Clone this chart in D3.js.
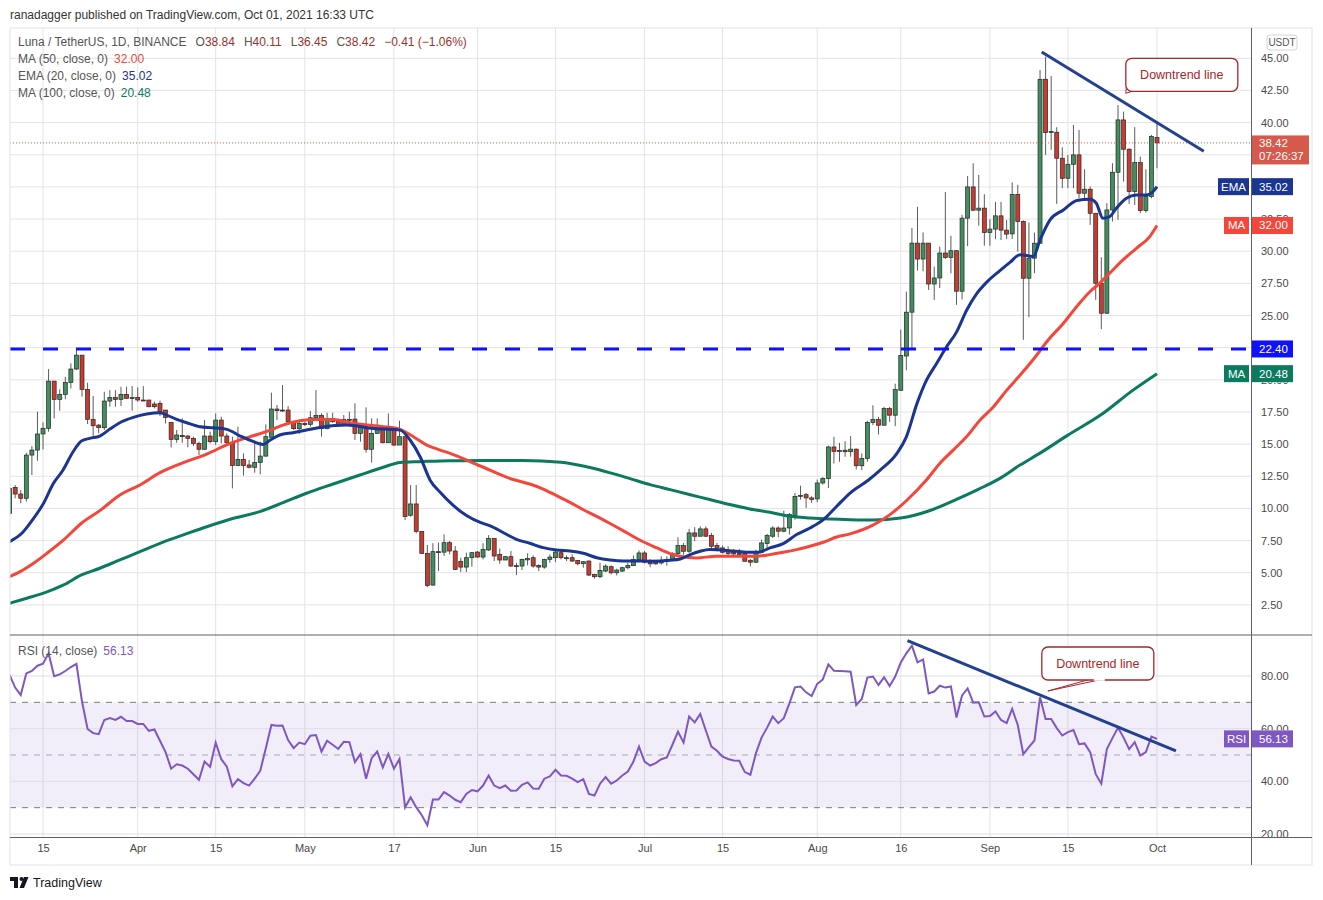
<!DOCTYPE html>
<html>
<head>
<meta charset="utf-8">
<script src="https://cdnjs.cloudflare.com/ajax/libs/d3/7.8.5/d3.min.js"></script>
<style>
html, body { margin: 0; padding: 0; background: #fff; }
svg { display: block; font-family: "Liberation Sans", Arial, sans-serif; }
</style>
</head>
<body>
<div id="chart"></div>
<script>
// daily candles, first one is 2021-03-09
var opens = [9.62,11.64,11.12,10.79,14.15,14.54,15.79,16.23,19.9,18.48,
18.87,19.8,20.84,21.92,19.26,16.93,16.48,16.28,18.35,18.63,
18.48,18.87,18.56,18.63,18.43,18.43,18.12,18.17,17.65,16.69,
15.37,15.68,15.63,15.45,15.06,14.6,15.63,15.19,16.87,15.63,
15.14,13.33,13.82,13.38,13.2,13.58,14.07,15.53,17.73,17.65,
17.65,16.74,16.2,16.61,16.54,17.05,17.24,16.2,17.0,16.8,
16.49,16.93,16.95,15.84,16.3,14.6,15.84,16.36,15.11,16.15,
14.93,15.58,9.47,10.35,8.22,6.51,4.04,6.64,6.6,7.34,
6.69,5.89,5.44,6.17,6.61,6.22,6.77,7.66,6.43,5.99,
6.25,5.55,5.52,6.0,6.17,5.57,5.44,6.04,6.17,6.56,
6.17,6.17,5.96,5.7,5.91,4.87,4.69,5.13,5.47,5.0,
5.13,5.39,5.55,6.03,6.54,5.82,5.69,5.76,5.89,5.97,
6.49,7.11,6.67,8.1,7.84,8.41,7.89,7.11,6.93,6.67,
6.59,6.49,6.49,5.97,5.82,6.59,7.27,7.84,8.48,8.23,
8.48,9.44,11.02,11.07,10.82,10.74,11.98,12.32,14.78,14.48,
14.53,14.41,14.61,13.32,13.89,16.68,16.91,16.47,17.76,17.25,
19.19,21.85,25.26,30.63,29.39,30.63,27.45,27.92,29.86,29.52,
30.04,26.89,32.57,35.0,33.19,33.35,31.46,31.72,32.75,31.64,
31.35,34.42,32.31,27.9,29.46,30.62,43.37,39.22,39.25,37.23,
35.67,36.76,37.49,34.51,34.82,32.95,27.51,25.18,33.21,36.14,
40.21,37.93,34.64,36.89,33.16,34.25,38.84];

var highs = [11.8,11.82,11.43,14.33,14.85,17.52,16.69,20.84,19.9,19.26,
20.24,21.28,22.36,21.92,19.77,18.74,16.56,19.07,19.2,19.2,
19.46,19.46,19.52,19.41,19.52,18.43,18.3,18.38,17.65,16.69,
16.1,17.0,15.71,15.58,15.19,16.87,15.97,17.39,17.13,15.84,
15.58,16.36,14.28,13.77,15.19,15.19,16.54,19.0,18.04,19.59,
17.96,16.74,16.87,16.74,17.57,19.2,17.39,17.44,17.44,16.93,
17.26,17.52,18.17,16.35,17.86,17.0,17.0,16.41,17.39,16.15,
16.82,15.63,11.82,11.82,8.22,7.16,7.3,7.34,7.99,7.47,
7.08,6.17,6.56,6.61,6.69,7.29,7.92,7.66,6.88,6.3,
6.69,5.78,6.09,6.51,6.35,5.65,6.09,6.43,6.82,6.69,
6.35,6.43,5.96,5.91,5.96,4.92,5.78,5.65,5.57,5.31,
5.47,5.78,6.35,6.74,6.69,6.07,5.92,6.28,6.28,6.59,
7.76,7.32,8.41,8.54,8.61,8.61,8.1,7.32,7.11,7.06,
6.85,6.85,6.59,6.07,6.8,7.58,8.02,8.61,8.61,9.83,
9.65,11.2,11.77,11.2,10.95,12.24,12.45,14.88,15.57,15.1,
15.23,15.62,14.66,14.28,16.81,18.02,17.12,17.9,17.89,19.7,
23.91,26.86,31.8,33.45,31.46,30.63,28.8,30.35,34.61,31.2,
30.09,32.83,35.85,36.83,35.93,34.43,32.49,33.84,33.84,32.42,
35.35,35.16,32.4,32.23,31.45,44.09,45.13,43.63,39.64,38.08,
37.49,39.82,39.43,36.37,35.03,32.95,29.53,33.73,36.84,41.37,
40.85,38.0,39.64,37.36,36.37,39.04,40.11];

var lows = [9.5,10.79,10.4,10.53,12.6,13.71,14.59,15.97,17.0,17.6,
18.48,19.33,20.76,18.69,16.56,15.63,15.84,16.1,17.91,17.91,
17.96,18.56,17.6,18.3,18.38,17.86,17.78,17.18,16.61,14.75,
15.11,15.11,14.75,14.85,14.15,14.54,15.06,14.93,15.06,14.93,
11.56,13.3,12.55,13.12,12.78,12.65,14.02,15.53,16.87,17.52,
16.67,16.1,15.79,16.41,16.35,17.0,15.58,16.15,16.67,16.35,
16.41,16.74,15.32,15.19,14.33,13.56,15.84,15.06,15.11,14.85,
14.93,9.1,9.36,8.07,6.46,3.87,4.0,5.13,6.3,6.43,
5.2,5.05,5.05,5.47,6.17,6.04,6.69,5.91,5.7,5.99,
5.47,4.82,5.21,5.57,5.39,5.13,5.31,5.78,5.83,6.04,
5.91,5.83,5.57,5.39,4.74,4.53,4.58,5.05,4.87,4.79,
5.05,5.26,5.52,5.91,5.73,5.43,5.63,5.63,5.56,5.89,
6.41,6.41,6.54,7.45,7.84,7.78,6.8,6.67,6.49,6.28,
6.28,6.28,5.89,5.5,5.76,6.54,6.93,7.71,7.76,8.15,
7.97,9.13,10.69,10.04,10.43,10.48,11.85,11.59,13.5,13.63,
14.02,14.02,13.04,12.98,13.63,16.47,15.75,16.47,16.73,16.4,
19.13,20.74,22.42,28.49,28.44,26.99,26.21,27.14,29.4,28.28,
25.83,26.24,30.4,33.14,31.98,30.43,30.43,30.94,30.87,30.94,
30.95,29.97,23.11,24.87,28.29,30.57,37.49,37.88,33.68,34.9,
34.9,34.9,34.12,34.12,32.05,26.22,23.94,25.13,32.31,32.44,
35.41,33.68,33.6,32.95,33.0,34.12,36.45];

var closes = [11.56,11.12,10.79,14.15,14.54,15.79,16.23,19.9,18.48,18.87,
19.8,20.84,21.92,19.26,16.93,16.43,16.28,18.35,18.63,18.48,
18.87,18.56,18.63,18.43,18.4,17.91,17.91,17.52,17.08,15.37,
15.71,15.58,15.45,15.06,14.6,15.63,15.19,16.87,15.63,15.11,
13.33,13.82,13.33,13.2,13.58,14.07,15.58,17.73,17.6,17.62,
16.74,16.2,16.61,16.51,17.05,17.24,16.2,17.0,16.74,16.49,
16.93,16.9,15.84,16.3,14.6,15.84,16.36,15.11,16.15,14.93,
15.58,9.37,10.35,8.22,6.51,4.0,6.64,6.6,7.34,6.69,
5.26,5.44,6.17,6.56,6.22,6.82,7.66,6.3,5.99,6.25,
5.52,5.53,6.04,6.1,5.52,5.44,6.04,6.22,6.61,6.17,
6.15,5.91,5.7,5.86,4.82,4.69,5.18,5.52,5.0,5.21,
5.39,5.57,6.03,6.54,5.82,5.69,5.82,5.92,6.02,6.49,
7.11,6.67,8.1,7.84,8.41,7.84,7.06,6.88,6.59,6.49,
6.46,6.46,5.89,5.82,6.59,7.32,7.89,8.48,8.23,8.48,
9.52,10.94,10.98,10.82,10.7,11.98,12.32,14.78,14.44,14.5,
14.41,14.61,13.32,13.89,16.68,16.91,16.47,17.76,17.25,19.24,
21.9,25.26,30.63,29.39,30.63,27.45,27.92,29.86,29.52,30.04,
26.89,32.57,35.0,33.19,33.35,31.46,31.72,32.75,31.64,31.33,
34.42,32.31,27.9,29.46,30.62,43.37,39.22,39.3,37.23,35.67,
36.76,37.49,34.51,34.82,32.95,27.51,25.18,33.21,36.14,40.21,
37.93,34.64,36.89,33.16,34.25,38.91,38.42];

var rsiValues = [80.4,75.6,72.8,81.0,81.9,83.9,84.7,88.6,79.9,80.6,
81.9,83.4,84.6,70.3,59.9,58.3,57.9,63.3,64.0,63.3,
64.5,62.9,62.9,61.8,61.8,59.2,59.7,55.4,51.1,44.8,
46.5,46.0,44.8,42.7,40.6,47.5,45.5,54.7,48.4,45.6,
38.1,40.8,39.3,38.4,41.0,44.0,52.6,61.4,61.1,61.2,
55.7,52.6,54.7,54.1,57.3,57.6,51.3,55.4,53.9,52.3,
55.0,54.9,47.3,50.3,41.0,48.8,51.3,45.3,50.4,44.8,
48.5,30.1,33.9,30.2,27.1,23.3,33.1,33.1,35.9,34.6,
33.0,32.1,35.2,36.7,36.2,38.4,42.2,38.4,37.4,38.4,
36.4,36.5,38.7,39.6,37.3,37.2,41.0,41.9,44.4,42.2,
42.1,41.0,39.7,40.8,35.2,34.6,39.1,41.6,39.1,40.3,
42.2,43.7,47.5,53.2,47.5,46.0,46.9,48.4,49.1,53.9,
58.9,54.7,64.6,62.4,65.6,59.3,53.2,51.6,49.4,48.5,
47.9,47.8,43.5,42.5,50.7,56.6,60.4,64.6,62.1,64.0,
69.6,75.7,76.0,73.8,72.4,77.0,78.7,84.4,82.0,81.9,
81.8,81.6,69.0,71.3,79.4,79.8,76.6,79.5,76.2,79.8,
85.1,88.6,91.5,85.2,86.3,73.4,74.1,76.3,75.6,76.0,
64.2,72.6,75.3,69.9,70.0,64.6,64.8,66.5,63.3,62.1,
67.5,61.4,50.3,53.0,55.5,71.9,63.7,63.7,60.2,57.4,
58.7,59.5,54.1,54.4,51.1,42.7,39.1,52.3,56.4,60.4,
56.6,52.2,54.9,49.8,51.1,57.0,56.1];

// moving averages: [day index, value]
var ema20Points = [[0,7.42],[2.2,8.07],[4.3,9.23],[6.1,10.4],[7.8,11.9],[9.6,12.99],[11.4,14.41],[12.9,15.24],
[14.4,15.45],[16.2,15.63],[18,16.17],[20.1,16.74],[22.2,17.08],[24.6,17.34],[27,17.44],[28.2,17.26],[30,16.93],
[31.8,16.66],[34.2,16.35],[36.6,16.27],[39,16.15],[41.4,15.63],[43.8,15.19],[45.5,14.98],[46.8,15.32],[48.5,15.71],
[50.9,15.89],[55.7,16.3],[60.5,16.48],[65.3,16.22],[70.1,16.09],[71.9,15.32],[73.7,14.02],[75.5,12.2],[77.3,11.25],
[79.7,10.21],[82.1,9.43],[84.5,8.91],[86.3,8.65],[88.6,8.13],[91,7.6],[93.4,7.29],[95.8,6.95],[98.2,6.77],
[100.6,6.69],[103,6.51],[105.4,6.17],[107.8,5.99],[110.2,5.91],[112.6,5.91],[115,5.9],[118.6,5.97],[120.4,6.07],
[122.2,6.41],[124,6.67],[125.7,6.8],[128.1,6.75],[130.5,6.67],[132.9,6.59],[134.4,6.59],[136.5,6.93],[138.9,7.27],
[141.3,7.97],[143.7,8.48],[146.1,9.13],[148.5,10.17],[150.9,11.2],[154.2,12.21],[156.3,12.98],[159.3,14.28],
[161,15.57],[162.9,18.15],[164.6,19.96],[166.4,21.25],[168.2,22.55],[170,23.71],[171.8,25.39],[173.6,26.68],
[175.4,27.58],[177.8,28.49],[179.6,29.13],[181.4,29.73],[183.8,29.59],[185,30.88],[186.8,32.44],[189.2,33.21],
[191.6,33.94],[194,34.04],[195.1,33.73],[196.3,32.56],[197.5,32.69],[198.7,33.34],[200.5,34.12],[202.3,34.38],
[204.1,34.38],[205.3,34.64],[206,35.02]];

var ma50Points = [[0,4.7],[1.9,5.09],[4.3,5.74],[6.7,6.51],[9.7,7.55],[12.9,8.85],[16.2,9.83],[19.8,11.04],
[23.4,11.82],[27,12.78],[31.2,13.56],[35.4,14.23],[39.6,15.06],[43.2,15.58],[46.1,15.97],[49.1,16.48],[52.1,16.82],
[55.1,16.92],[58.1,16.92],[61.1,16.67],[64.1,16.48],[67.1,16.36],[70.1,16.15],[72.5,15.58],[74.9,14.93],
[77.3,14.54],[79.1,14.28],[84.5,13.3],[90.1,12.29],[93.4,11.9],[95.8,11.51],[98.2,10.99],[100.6,10.47],[103,9.9],
[105.4,9.38],[107.8,8.83],[110.2,8.26],[112.6,7.66],[116.2,6.93],[118.6,6.49],[120.4,6.28],[123.3,6.15],
[126.9,6.28],[130.5,6.28],[134.1,6.28],[136.5,6.41],[138.9,6.59],[141.3,6.8],[143.7,7.06],[146.1,7.37],
[148.5,7.78],[150.9,8.02],[155,8.7],[158,9.5],[161,10.6],[164.6,12.21],[167,13.5],[169.4,14.53],[171.8,15.57],
[174.2,16.86],[176.6,17.89],[179,19.18],[181.4,20.35],[184,21.7],[186.5,23.11],[189.2,24.4],[191.6,25.7],
[194,26.87],[195.7,27.51],[197.5,28.29],[199.9,29.33],[202.3,30.23],[204.7,31.14],[206,32.0]];

var ma100Points = [[0,2.63],[3.1,3.02],[6.1,3.41],[9.7,4.05],[12.9,4.83],[16.2,5.35],[19.8,6.0],[23.4,6.64],
[27,7.29],[31.2,7.94],[35.4,8.58],[39.6,9.16],[44.9,9.75],[49.1,10.45],[53.3,11.18],[58.1,11.9],[62.9,12.6],
[67.1,13.2],[70.1,13.58],[73.7,13.64],[79.1,13.71],[85,13.72],[92,13.72],[99,13.6],[104,13.2],[108,12.75],
[111.4,12.32],[115,11.85],[118.6,11.46],[122.2,11.07],[125.7,10.69],[129.3,10.3],[132.9,9.96],[136.5,9.7],
[140.1,9.39],[143.7,9.26],[147.3,9.18],[150.9,9.13],[155,9.1],[160,9.25],[165,9.8],[170,10.7],[174,11.5],
[177.8,12.34],[181.4,13.37],[185,14.3],[190,15.7],[196,17.3],[201.7,19.2],[206,20.48]];

// trend lines drawn by the author: [day index, value]
var priceTrend = [[185.3,45.49],[214.4,37.77]];
var rsiTrend = [[161.2,93.4],[209.4,51.6]];

var tickDates = ["2021-03-15","2021-04-01","2021-04-15","2021-05-01","2021-05-17","2021-06-01","2021-06-15",
  "2021-07-01","2021-07-15","2021-08-01","2021-08-16","2021-09-01","2021-09-15","2021-10-01"];
var tickLabels = ["15","Apr","15","May","17","Jun","15","Jul","15","Aug","16","Sep","15","Oct"];
var priceTicks = [2.5,5,7.5,10,12.5,15,17.5,20,22.5,25,27.5,30,32.5,35,37.5,40,42.5,45];
var rsiTicks = [20,40,60,80];

var lastPrice = 38.42, supportLevel = 22.40;
var ema20Last = 35.02, ma50Last = 32.00, ma100Last = 20.48, rsiLast = 56.13;

var FONT = "Liberation Sans, Arial, sans-serif";
var W = 1323, H = 900;
var L = 10, R = 1251, TOP = 28, MID = 635, RB = 837, BOT = 865, FR = 1312;

var start = new Date(Date.UTC(2021, 2, 9));
function dayDate(i) { return new Date(start.getTime() + i * 864e5); }
function parseDay(s) { return new Date(s + "T00:00:00Z"); }

var x = d3.scaleUtc().domain([start, new Date(Date.UTC(2021, 9, 1))]).range([9.6, 1157]);
var y = d3.scaleLinear().domain([2.5, 45]).range([604.9, 58.3]);
var yr = d3.scaleLinear().domain([20, 80]).range([834, 676]);

var candles = opens.map(function(o, i) {
  return { date: dayDate(i), o: o, h: highs[i], l: lows[i], c: closes[i] };
});

var svg = d3.select("#chart").append("svg").attr("width", W).attr("height", H);
svg.append("rect").attr("width", W).attr("height", H).attr("fill", "#fff");

var defs = svg.append("defs");
defs.append("clipPath").attr("id", "clipPrice").append("rect")
  .attr("x", L).attr("y", TOP).attr("width", R - L).attr("height", MID - TOP);
defs.append("clipPath").attr("id", "clipRsi").append("rect")
  .attr("x", L).attr("y", MID + 1).attr("width", R - L).attr("height", RB - MID - 1);

// parts of the axis column that sit behind the value tags
var tagBands = [[y(lastPrice) - 7.5, y(lastPrice) + 21.5]];
[ema20Last, ma50Last, supportLevel, ma100Last].forEach(v => tagBands.push([y(v) - 8.5, y(v) + 8.5]));
tagBands.push([yr(rsiLast) - 8.5, yr(rsiLast) + 8.5]);
tagBands.sort((a, b) => a[0] - b[0]);
var axisClip = defs.append("clipPath").attr("id", "clipAxis");
var prevY = TOP;
tagBands.forEach(function(b) {
  axisClip.append("rect").attr("x", R + 1).attr("y", prevY).attr("width", FR - R).attr("height", Math.max(0, b[0] - prevY));
  prevY = b[1];
});
axisClip.append("rect").attr("x", R + 1).attr("y", prevY).attr("width", FR - R).attr("height", RB - prevY);
function hiddenByTag(py) {
  return tagBands.some(b => py - 4 >= b[0] && py + 4 <= b[1]);
}

// grid
var grid = svg.append("g");
grid.selectAll(".vgrid").data(tickDates).enter().append("line")
  .attr("x1", d => x(parseDay(d))).attr("x2", d => x(parseDay(d)))
  .attr("y1", TOP).attr("y2", RB).attr("stroke", "#e4e4e4");
grid.selectAll(".hgrid").data(priceTicks).enter().append("line")
  .attr("x1", L).attr("x2", R).attr("y1", d => y(d)).attr("y2", d => y(d)).attr("stroke", "#e4e4e4");

// rsi band and guides
var rsiG = svg.append("g").attr("clip-path", "url(#clipRsi)");
rsiG.append("rect").attr("x", L).attr("width", R - L)
  .attr("y", yr(70)).attr("height", yr(30) - yr(70)).attr("fill", "rgba(126,87,194,0.1)");
rsiG.selectAll(".rgrid").data(rsiTicks).enter().append("line")
  .attr("x1", L).attr("x2", R).attr("y1", d => yr(d)).attr("y2", d => yr(d)).attr("stroke", "#e0dde8");
rsiG.selectAll(".rband").data([70, 50, 30]).enter().append("line")
  .attr("x1", L).attr("x2", R).attr("y1", d => yr(d)).attr("y2", d => yr(d))
  .attr("stroke", d => d == 50 ? "#a9a5b5" : "#787b86")
  .attr("stroke-dasharray", "6,6");

// candles
var priceG = svg.append("g").attr("clip-path", "url(#clipPrice)");
priceG.selectAll(".wick").data(candles).enter().append("line")
  .attr("x1", d => x(d.date)).attr("x2", d => x(d.date))
  .attr("y1", d => y(d.h)).attr("y2", d => y(d.l))
  .attr("stroke", "#5b5b5b").attr("stroke-width", 1);
priceG.selectAll(".body").data(candles).enter().append("rect")
  .attr("x", d => x(d.date) - 2).attr("width", 4)
  .attr("y", d => y(Math.max(d.o, d.c)))
  .attr("height", d => Math.max(1, Math.abs(y(d.o) - y(d.c))))
  .attr("fill", d => d.c >= d.o ? "#3f8f5f" : "#c63d30")
  .attr("stroke", "#262626").attr("stroke-width", 0.7);

// moving averages
var maLine = d3.line().x(d => x(dayDate(d[0]))).y(d => y(d[1])).curve(d3.curveMonotoneX);
priceG.append("path").datum(ma100Points).attr("d", maLine)
  .attr("fill", "none").attr("stroke", "#0b7a5f").attr("stroke-width", 3);
priceG.append("path").datum(ma50Points).attr("d", maLine)
  .attr("fill", "none").attr("stroke", "#f4463a").attr("stroke-width", 3);
priceG.append("path").datum(ema20Points).attr("d", maLine)
  .attr("fill", "none").attr("stroke", "#1a3592").attr("stroke-width", 3);

// horizontal support and last price
priceG.append("line").attr("x1", L).attr("x2", R)
  .attr("y1", y(supportLevel)).attr("y2", y(supportLevel))
  .attr("stroke", "#1010ff").attr("stroke-width", 3).attr("stroke-dasharray", "15,18");
priceG.append("line").attr("x1", L).attr("x2", R)
  .attr("y1", y(lastPrice)).attr("y2", y(lastPrice))
  .attr("stroke", "#d65a4b").attr("stroke-width", 1).attr("stroke-dasharray", "1,2");

// trend lines
var trendLine = d3.line().x(d => x(dayDate(d[0]))).y(d => y(d[1]));
priceG.append("path").datum(priceTrend).attr("d", trendLine)
  .attr("stroke", "#224191").attr("stroke-width", 3).attr("fill", "none");

// rsi line
var rsiLine = d3.line().x((d, i) => x(dayDate(i))).y(d => yr(d));
rsiG.append("path").datum(rsiValues).attr("d", rsiLine)
  .attr("fill", "none").attr("stroke", "#7e57c2").attr("stroke-width", 2);
var rsiTrendLine = d3.line().x(d => x(dayDate(d[0]))).y(d => yr(d[1]));
rsiG.append("path").datum(rsiTrend).attr("d", rsiTrendLine)
  .attr("stroke", "#224191").attr("stroke-width", 3).attr("fill", "none");

// callouts
function callout(g, bx, by, bw, bh, tail) {
  g.append("path").attr("d", tail).attr("fill", "#fff").attr("stroke", "#a7262b").attr("stroke-width", 1);
  g.append("rect").attr("x", bx).attr("y", by).attr("width", bw).attr("height", bh)
    .attr("rx", 6).attr("fill", "#fff").attr("stroke", "#a7262b").attr("stroke-width", 1.3);
  g.append("text").attr("x", bx + bw / 2).attr("y", by + bh / 2 + 4.5).attr("text-anchor", "middle")
    .attr("font-size", 12.5).attr("fill", "#a7262b").attr("font-family", FONT).text("Downtrend line");
}
var pcx = x(dayDate(200.4)), pcy = y(42.28);
callout(svg.append("g"), pcx, pcy - 35, 112, 33,
  "M" + (pcx + 1) + "," + (pcy - 10) + " L" + pcx + "," + pcy + " L" + (pcx + 10) + "," + (pcy - 3) + " Z");
var rcx = x(dayDate(186.4)), rcy = yr(74.3);
callout(svg.append("g"), rcx - 6, rcy - 44, 112, 33,
  "M" + (rcx + 45) + "," + (rcy - 12.5) + " L" + rcx + "," + rcy + " L" + (rcx + 58) + "," + (rcy - 12.5) + " Z");
svg.append("line").attr("x1", rcx + 46).attr("x2", rcx + 57).attr("y1", rcy - 11.2).attr("y2", rcy - 11.2)
  .attr("stroke", "#fff").attr("stroke-width", 2);

// pane frames
svg.append("rect").attr("x", L).attr("y", TOP).attr("width", FR - L).attr("height", BOT - TOP)
  .attr("fill", "none").attr("stroke", "#e0e3eb");
svg.append("line").attr("x1", L).attr("x2", FR).attr("y1", MID).attr("y2", MID).attr("stroke", "#5d606b");
svg.append("line").attr("x1", L).attr("x2", FR).attr("y1", RB + 0.5).attr("y2", RB + 0.5).attr("stroke", "#5d606b");
svg.append("line").attr("x1", R + 0.5).attr("x2", R + 0.5).attr("y1", TOP).attr("y2", BOT).attr("stroke", "#5d606b");

// axes: labels fully behind a value tag are left out, partly covered ones are clipped
var axisCol = svg.append("g").attr("clip-path", "url(#clipAxis)");
var yAxis = d3.axisRight(y).tickValues(priceTicks.filter(v => !hiddenByTag(y(v))))
  .tickFormat(d3.format(".2f")).tickSize(0).tickPadding(10);
axisCol.append("g").attr("transform", "translate(" + R + ",0)").call(yAxis)
  .call(g => g.select(".domain").remove())
  .attr("font-family", FONT).attr("font-size", 11)
  .selectAll("text").attr("fill", "#4a4a4a");
var rAxis = d3.axisRight(yr).tickValues(rsiTicks.filter(v => !hiddenByTag(yr(v))))
  .tickFormat(d3.format(".2f")).tickSize(0).tickPadding(10);
axisCol.append("g").attr("transform", "translate(" + R + ",0)").call(rAxis)
  .call(g => g.select(".domain").remove())
  .attr("font-family", FONT).attr("font-size", 11)
  .selectAll("text").attr("fill", "#4a4a4a");

var xAxis = d3.axisBottom(x).tickValues(tickDates.map(parseDay))
  .tickFormat((d, i) => tickLabels[i]).tickSize(0).tickPadding(7);
svg.append("g").attr("transform", "translate(0," + RB + ")").call(xAxis)
  .call(g => g.select(".domain").remove())
  .attr("font-family", FONT).attr("font-size", 11)
  .selectAll("text").attr("fill", "#4a4a4a");

// currency tag
svg.append("rect").attr("x", 1267).attr("y", 35).attr("width", 30).attr("height", 15).attr("rx", 3)
  .attr("fill", "#fff").attr("stroke", "#d1d4dc");
svg.append("text").attr("x", 1282).attr("y", 46).attr("text-anchor", "middle").attr("font-size", 10)
  .attr("fill", "#555").attr("font-family", FONT).text("USDT");

// value tags on the axes
function valueTag(yy, value, color, tag, tagW) {
  var g = svg.append("g").attr("font-family", FONT).attr("font-size", 11.5);
  g.append("rect").attr("x", R + 1).attr("y", yy - 8.5).attr("width", 41).attr("height", 17).attr("fill", color);
  g.append("text").attr("x", R + 8).attr("y", yy + 4).attr("fill", "#fff").text(value);
  if (tag) {
    g.append("rect").attr("x", R - 2 - tagW).attr("y", yy - 8.5).attr("width", tagW).attr("height", 17).attr("fill", color);
    g.append("text").attr("x", R - 2 - tagW / 2).attr("y", yy + 4).attr("text-anchor", "middle")
      .attr("fill", "#fff").text(tag);
  }
}
valueTag(y(ema20Last), ema20Last.toFixed(2), "#1a3592", "EMA", 31);
valueTag(y(ma50Last), ma50Last.toFixed(2), "#f4463a", "MA", 25);
valueTag(y(supportLevel), supportLevel.toFixed(2), "#1010ff", null, 0);
valueTag(y(ma100Last), ma100Last.toFixed(2), "#0b7a5f", "MA", 25);
valueTag(yr(rsiLast), rsiLast.toFixed(2), "#7e57c2", "RSI", 25);

var lp = svg.append("g").attr("font-family", FONT).attr("font-size", 11.5).attr("fill", "#fff");
lp.append("rect").attr("x", R + 1).attr("y", y(lastPrice) - 7.5).attr("width", 57).attr("height", 29).attr("fill", "#d65a4b");
lp.append("text").attr("x", R + 8).attr("y", y(lastPrice) + 4).text(lastPrice.toFixed(2));
lp.append("text").attr("x", R + 8).attr("y", y(lastPrice) + 17.5).text("07:26:37");

// legends
var leg = svg.append("g").attr("font-family", FONT).attr("font-size", 12);
var l1 = leg.append("text").attr("x", 18).attr("y", 46).attr("fill", "#555");
l1.append("tspan").text("Luna / TetherUS, 1D, BINANCE");
[["O", "38.84"], ["H", "40.11"], ["L", "36.45"], ["C", "38.42"]].forEach(function(p) {
  l1.append("tspan").attr("dx", 9).text(p[0]);
  l1.append("tspan").attr("fill", "#93352c").text(p[1]);
});
l1.append("tspan").attr("dx", 9).attr("fill", "#93352c").text("\u22120.41 (\u22121.06%)");

var maLegend = [["MA (50, close, 0)", "32.00", "#f4463a", 63], ["EMA (20, close, 0)", "35.02", "#1a3592", 80],
  ["MA (100, close, 0)", "20.48", "#0b7a5f", 97]];
maLegend.forEach(function(m) {
  var t = leg.append("text").attr("x", 18).attr("y", m[3]).attr("fill", "#555");
  t.append("tspan").text(m[0]);
  t.append("tspan").attr("dx", 6).attr("fill", m[2]).text(m[1]);
});
var rl = leg.append("text").attr("x", 18).attr("y", 655).attr("fill", "#555");
rl.append("tspan").text("RSI (14, close)");
rl.append("tspan").attr("dx", 6).attr("fill", "#7e57c2").text("56.13");

// header and footer
svg.append("text").attr("x", 10).attr("y", 19).attr("font-family", FONT).attr("font-size", 12)
  .attr("fill", "#333").text("ranadagger published on TradingView.com, Oct 01, 2021 16:33 UTC");
var logo = svg.append("g").attr("fill", "#131722");
logo.append("path").attr("d", "M10,877 h8 v11 h-4 v-7 h-4 Z");
logo.append("circle").attr("cx", 21.5).attr("cy", 879).attr("r", 2);
logo.append("path").attr("d", "M24,877 h4.5 l-4.5,11 h-4.5 Z");
svg.append("text").attr("x", 33).attr("y", 887).attr("font-family", FONT).attr("font-size", 12.5)
  .attr("fill", "#131722").text("TradingView");
</script>
</body>
</html>
